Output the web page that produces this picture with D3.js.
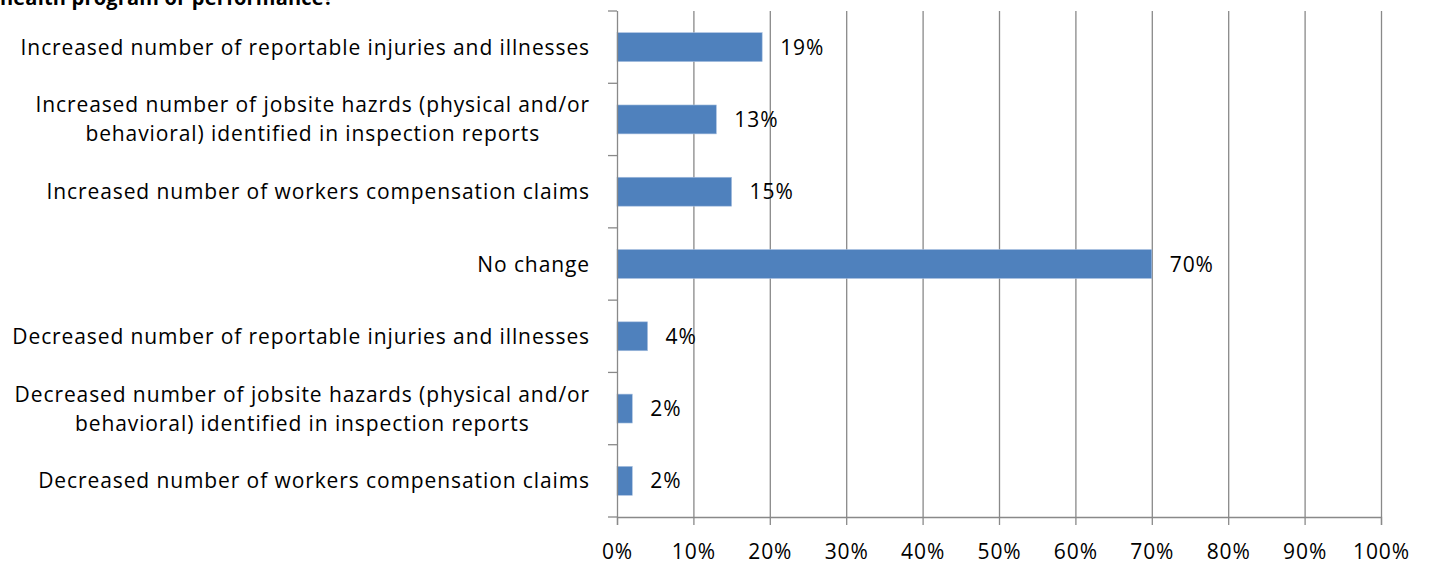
<!DOCTYPE html>
<html>
<head>
<meta charset="utf-8">
<script src="https://cdn.jsdelivr.net/npm/d3@7"></script>
<style>
  body { margin: 0; background: #fff; }
  svg text { font-family: "Open Sans", sans-serif; fill: #000; letter-spacing: 0.9px; }
</style>
</head>
<body>
<svg id="chart"></svg>
<script>
// Chart data
var categories = [
    ['Increased number of reportable injuries and illnesses'],
    ['Increased number of jobsite hazrds (physical and/or', 'behavioral) identified in inspection reports'],
    ['Increased number of workers compensation claims'],
    ['No change'],
    ['Decreased number of reportable injuries and illnesses'],
    ['Decreased number of jobsite hazards (physical and/or', 'behavioral) identified in inspection reports'],
    ['Decreased number of workers compensation claims']
];
var values = [19, 13, 15, 70, 4, 2, 2];
var xTicks = [0, 10, 20, 30, 40, 50, 60, 70, 80, 90, 100];
var title = 'health program or performance?';

var W = 1429, H = 563;
var margin = { top: 11, right: 48, bottom: 46, left: 617 },
    width = W - margin.left - margin.right,
    height = H - margin.top - margin.bottom;

var svg = d3.select('#chart')
    .attr('width', W)
    .attr('height', H);

// title, cut off at the top like the original
svg.append('text')
    .attr('x', 0)
    .attr('y', 5)
    .style('font-weight', 'bold')
    .style('font-size', '20px')
    .style('letter-spacing', '0.2px')
    .text(title);

var g = svg.append('g')
    .attr('transform', `translate(${margin.left},${margin.top})`);

var x = d3.scaleLinear().domain([0, 100]).range([0, width]);
var y = d3.scaleBand()
    .domain(d3.range(categories.length))
    .range([0, height])
    .paddingInner(0.6)
    .paddingOuter(0.3);

var gridColor = '#898989';
var fs = '21px';

// vertical gridlines
g.selectAll('.grid')
    .data(xTicks.slice(1))
    .enter()
    .append('line')
    .attr('class', 'grid')
    .attr('x1', d => x(d) + 0.5)
    .attr('x2', d => x(d) + 0.5)
    .attr('y1', 0)
    .attr('y2', height)
    .attr('stroke', gridColor)
    .attr('stroke-width', 1.3);

// bars
g.selectAll('.bar')
    .data(values)
    .enter()
    .append('rect')
    .attr('class', 'bar')
    .attr('x', x(0))
    .attr('y', (d, i) => y(i))
    .attr('width', d => x(d) - x(0))
    .attr('height', y.bandwidth())
    .attr('fill', '#4f81bd')
    .attr('stroke', '#a7bfdf')
    .attr('stroke-width', 0.6);

// value labels
g.selectAll('.val')
    .data(values)
    .enter()
    .append('text')
    .attr('class', 'val')
    .attr('x', d => x(d) + 18)
    .attr('y', (d, i) => y(i) + y.bandwidth() / 2)
    .attr('dy', '0.36em')
    .style('font-size', fs)
    .text(d => d + '%');

// x axis
var xAxis = g.append('g')
    .attr('transform', `translate(0,${height})`)
    .call(d3.axisBottom(x).tickValues(xTicks).tickFormat(d => d + '%').tickSize(8).tickPadding(19));
xAxis.select('.domain').attr('stroke', gridColor).attr('stroke-width', 1.3);
xAxis.selectAll('.tick line').attr('stroke', gridColor).attr('stroke-width', 1.3);
xAxis.selectAll('.tick text').style('font-size', fs).style('font-family', '"Open Sans", sans-serif');

// y axis: line with category boundary ticks
var yBound = d3.range(categories.length + 1).map(i => i * height / categories.length);
g.append('line')
    .attr('x1', 0.5).attr('x2', 0.5)
    .attr('y1', 0).attr('y2', height)
    .attr('stroke', gridColor).attr('stroke-width', 1.3);
g.selectAll('.ytick')
    .data(yBound)
    .enter()
    .append('line')
    .attr('class', 'ytick')
    .attr('x1', -9).attr('x2', 0)
    .attr('y1', d => d).attr('y2', d => d)
    .attr('stroke', gridColor).attr('stroke-width', 1.3);

// category labels: block right aligned, lines centered within block
var lineH = 29;
categories.forEach(function (lines, i) {
    var cy = y(i) + y.bandwidth() / 2;
    var grp = g.append('g');
    var t = grp.append('text')
        .attr('text-anchor', 'middle')
        .style('font-size', fs);
    lines.forEach(function (ln, j) {
        t.append('tspan')
            .attr('x', 0)
            .attr('y', cy + (j - (lines.length - 1) / 2) * lineH)
            .attr('dy', '0.36em')
            .text(ln);
    });
    var bb = t.node().getBBox();
    grp.attr('transform', `translate(${-27 - bb.width / 2},0)`);
});
</script>
</body>
</html>
